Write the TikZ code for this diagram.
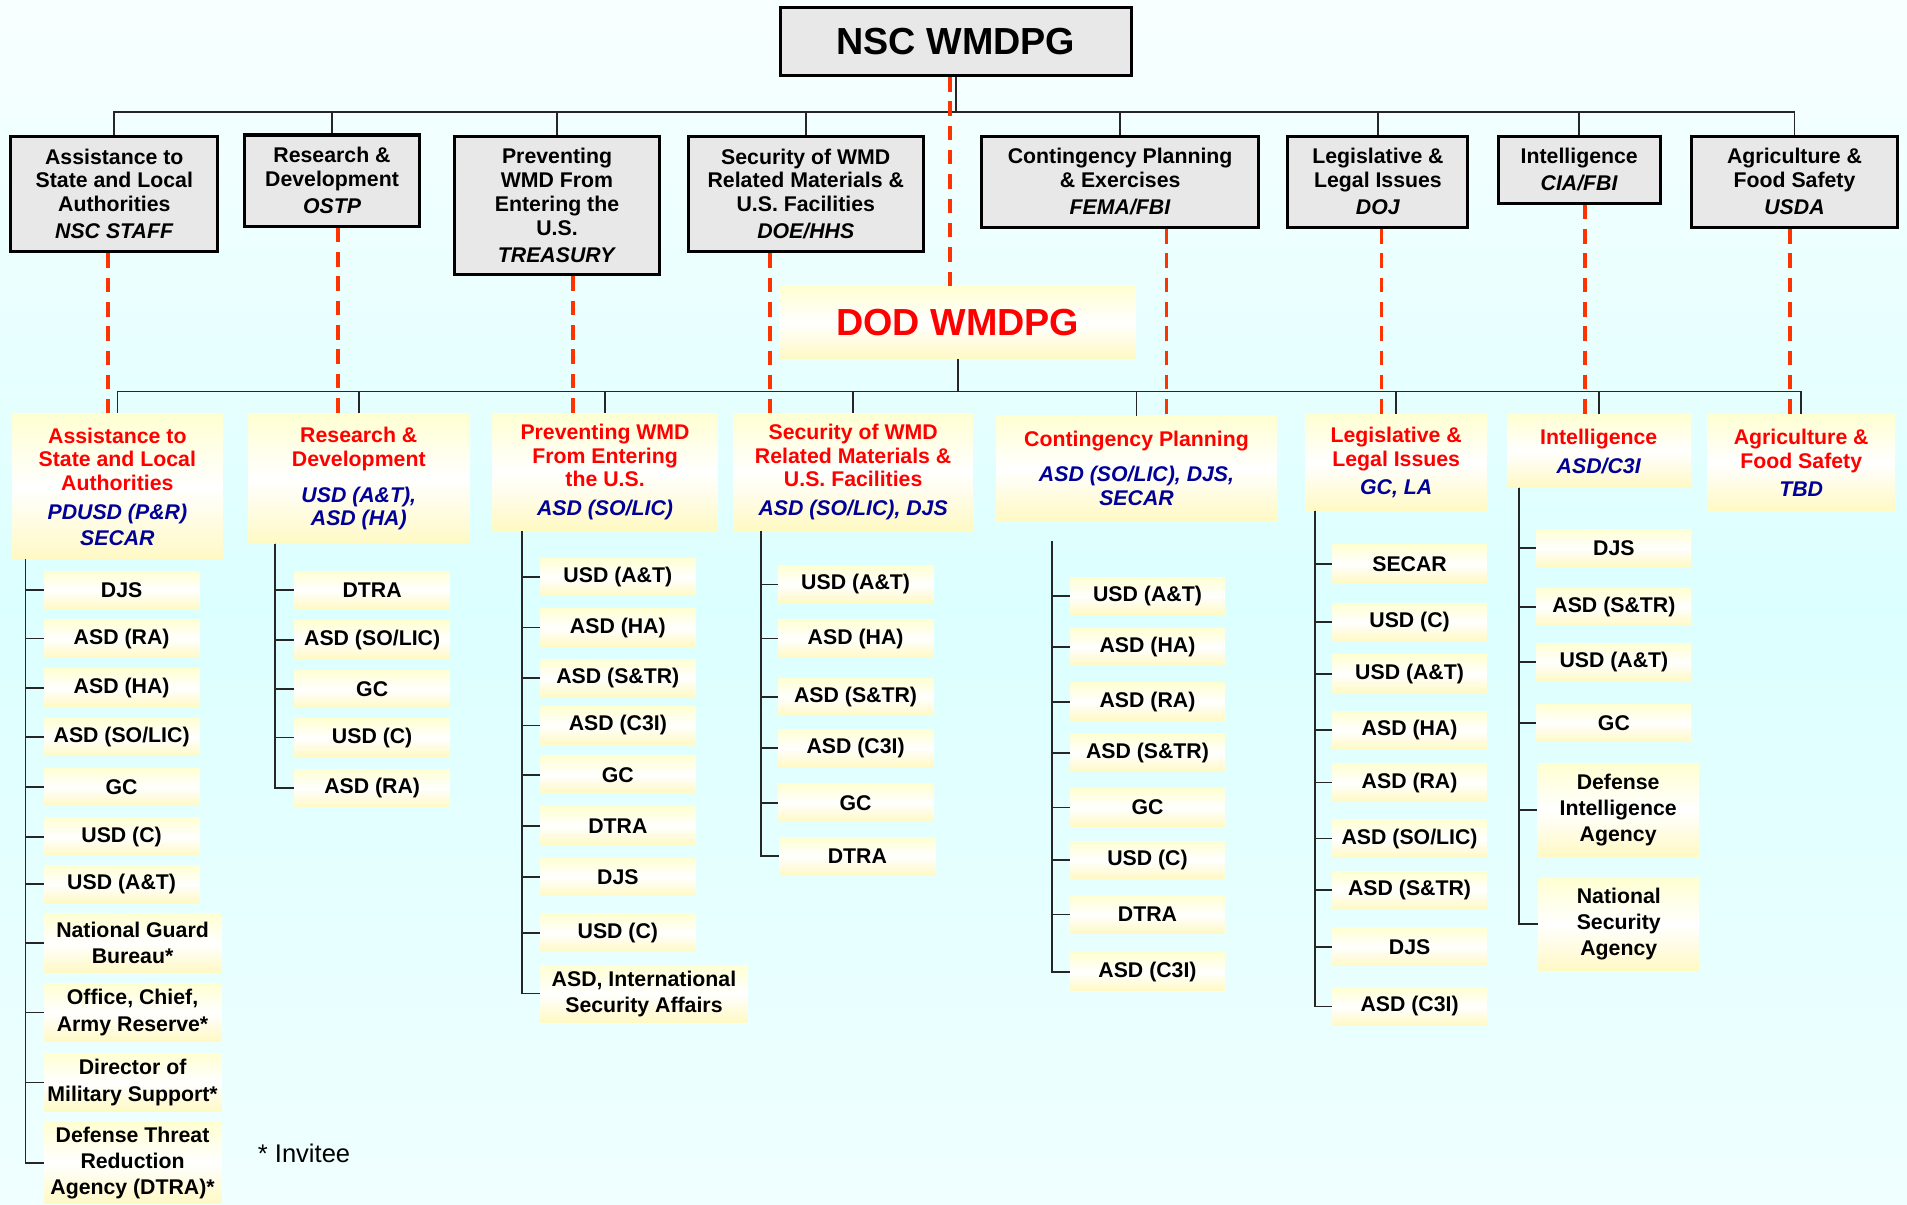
\documentclass[tikz,border=0pt]{standalone}
\usepackage{fontspec}
\setmainfont{Liberation Sans}
\definecolor{boxgray}{HTML}{E8E8E8}
\definecolor{navy}{HTML}{000099}
\definecolor{dashred}{HTML}{FF3300}
\definecolor{ylwtop}{HTML}{FFFFD2}
\definecolor{ylwbot}{HTML}{FFF9C4}
\definecolor{bgtop}{HTML}{F8FFFF}
\definecolor{bgmid}{HTML}{DCFFFF}
\definecolor{bgbot}{HTML}{F0FFFF}
\newcommand{\lbl}{\fontsize{17.5}{19.5}\selectfont}
\newcommand{\itm}{\fontsize{17.5}{21.5}\selectfont}
\newcommand{\chair}[1]{\textcolor{navy}{\itshape #1}}

\begin{document}
\begin{tikzpicture}[
  x=1pt, y=-1pt,
  topbox/.style={draw=black, line width=2.5pt, fill=boxgray, align=center, font=\lbl\bfseries, inner sep=0pt},
  head/.style={top color=ylwtop, bottom color=ylwbot, middle color=white, align=center, font=\lbl\bfseries, text=red, inner sep=0pt},
  item/.style={top color=ylwtop, bottom color=ylwbot, middle color=white, align=center, font=\itm\bfseries, inner sep=0pt, minimum height=31pt},
  bar/.style={line width=1.4pt, draw=black!85},
  link/.style={draw=dashred, line width=3pt, dash pattern=on 12pt off 8pt}
]

\useasboundingbox (0,0) rectangle (1568,990);
\fill[top color=bgtop, bottom color=bgbot, middle color=bgmid] (0,0) rectangle (1568,990);

% NSC level
\node[topbox, minimum width=288, minimum height=56, font=\fontsize{31}{31}\selectfont\bfseries] (N) at (786,34) {NSC WMDPG};

\node[topbox, minimum width=170, minimum height=95] (T1) at (94,159.5) {Assistance to\\State and Local\\Authorities\\[3pt]\textit{NSC STAFF}};
\node[topbox, minimum width=144, minimum height=75] (T2) at (273,148.5) {Research \&\\Development\\[3pt]\textit{OSTP}};
\node[topbox, minimum width=168, minimum height=114] (T3) at (458,169) {Preventing\\WMD From\\Entering the\\U.S.\\[3pt]\textit{TREASURY}};
\node[topbox, minimum width=193, minimum height=95] (T4) at (662.5,159.5) {Security of WMD\\Related Materials \&\\U.S. Facilities\\[3pt]\textit{DOE/HHS}};
\node[topbox, minimum width=228, minimum height=75] (T5) at (921,149.5) {Contingency Planning\\\& Exercises\\[3pt]\textit{FEMA/FBI}};
\node[topbox, minimum width=148, minimum height=75] (T6) at (1133,149.5) {Legislative \&\\Legal Issues\\[3pt]\textit{DOJ}};
\node[topbox, minimum width=133, minimum height=55] (T7) at (1298.5,139.5) {Intelligence\\[3pt]\textit{CIA/FBI}};
\node[topbox, minimum width=169, minimum height=75] (T8) at (1475.5,149.5) {Agriculture \&\\Food Safety\\[3pt]\textit{USDA}};

% DOD level
\node[head, minimum width=293, minimum height=60, font=\fontsize{31}{31}\selectfont\bfseries] (W) at (787.5,265) {DOD WMDPG};

\node[head, minimum width=173, minimum height=120] (H1) at (96.5,400) {Assistance to\\State and Local\\Authorities\\[4pt]\chair{PDUSD (P\&R)}\\[2pt]\chair{SECAR}};
\node[head, minimum width=182, minimum height=107] (H2) at (295,393.5) {Research \&\\Development\\[10pt]\chair{USD (A\&T),}\\\chair{ASD (HA)}};
\node[head, minimum width=185, minimum height=96] (H3) at (497.5,388) {Preventing WMD\\From Entering\\the U.S.\\[4pt]\chair{ASD (SO/LIC)}};
\node[head, minimum width=197, minimum height=96] (H4) at (701.5,388) {Security of WMD\\Related Materials \&\\U.S. Facilities\\[4pt]\chair{ASD (SO/LIC), DJS}};
\node[head, minimum width=231, minimum height=86] (H5) at (934.5,385) {Contingency Planning\\[10pt]\chair{ASD (SO/LIC), DJS,}\\\chair{SECAR}};
\node[head, minimum width=149, minimum height=79] (H6) at (1148,380.5) {Legislative \&\\Legal Issues\\[4pt]\chair{GC, LA}};
\node[head, minimum width=151, minimum height=60] (H7) at (1314.5,371) {Intelligence\\[4pt]\chair{ASD/C3I}};
\node[head, minimum width=154, minimum height=79] (H8) at (1481,380.5) {Agriculture \&\\Food Safety\\[4pt]\chair{TBD}};

% members
\node[item, minimum width=128] (A1) at (100,485) {DJS};
\node[item, minimum width=128] (A2) at (100,525) {ASD (RA)};
\node[item, minimum width=128] (A3) at (100,565.5) {ASD (HA)};
\node[item, minimum width=128] (A4) at (100,606) {ASD (SO/LIC)};
\node[item, minimum width=128] (A5) at (100,647) {GC};
\node[item, minimum width=128] (A6) at (100,688) {USD (C)};
\node[item, minimum width=128] (A7) at (100,727) {USD (A\&T)};
\node[item, minimum width=146, minimum height=48] (A8) at (109,775.5) {National Guard\\Bureau*};
\node[item, minimum width=146, minimum height=48] (A9) at (109,832.5) {Office, Chief,\\Army Reserve*};
\node[item, minimum width=146, minimum height=48] (A10) at (109,890) {Director of\\Military Support*};
\node[item, minimum width=146, minimum height=67] (A11) at (109,956) {Defense Threat\\Reduction\\Agency (DTRA)*};

\node[item, minimum width=128] (B1) at (306,485) {DTRA};
\node[item, minimum width=128] (B2) at (306,526) {ASD (SO/LIC)};
\node[item, minimum width=128] (B3) at (306,566.5) {GC};
\node[item, minimum width=128] (B4) at (306,606.5) {USD (C)};
\node[item, minimum width=128] (B5) at (306,648) {ASD (RA)};

\node[item, minimum width=128] (C1) at (508,474.5) {USD (A\&T)};
\node[item, minimum width=128] (C2) at (508,516) {ASD (HA)};
\node[item, minimum width=128] (C3) at (508,557.5) {ASD (S\&TR)};
\node[item, minimum width=128] (C4) at (508,596.5) {ASD (C3I)};
\node[item, minimum width=128] (C5) at (508,637) {GC};
\node[item, minimum width=128] (C6) at (508,679) {DTRA};
\node[item, minimum width=128] (C7) at (508,721) {DJS};
\node[item, minimum width=128] (C8) at (508,767) {USD (C)};
\node[item, minimum width=171, minimum height=47] (C9) at (529.5,817) {ASD, International\\Security Affairs};

\node[item, minimum width=128] (D1) at (703.5,480.5) {USD (A\&T)};
\node[item, minimum width=128] (D2) at (703.5,525) {ASD (HA)};
\node[item, minimum width=128] (D3) at (703.5,573) {ASD (S\&TR)};
\node[item, minimum width=128] (D4) at (703.5,615) {ASD (C3I)};
\node[item, minimum width=128] (D5) at (703.5,660) {GC};
\node[item, minimum width=128] (D6) at (705,704) {DTRA};

\node[item, minimum width=127] (E1) at (943.5,490) {USD (A\&T)};
\node[item, minimum width=127] (E2) at (943.5,532) {ASD (HA)};
\node[item, minimum width=127] (E3) at (943.5,577) {ASD (RA)};
\node[item, minimum width=127] (E4) at (943.5,619) {ASD (S\&TR)};
\node[item, minimum width=127] (E5) at (943.5,664) {GC};
\node[item, minimum width=127] (E6) at (943.5,707) {USD (C)};
\node[item, minimum width=127] (E7) at (943.5,752) {DTRA};
\node[item, minimum width=127] (E8) at (943.5,799) {ASD (C3I)};

\node[item, minimum width=127] (F1) at (1159,463.5) {SECAR};
\node[item, minimum width=127] (F2) at (1159,511.5) {USD (C)};
\node[item, minimum width=127] (F3) at (1159,554) {USD (A\&T)};
\node[item, minimum width=127] (F4) at (1159,600.5) {ASD (HA)};
\node[item, minimum width=127] (F5) at (1159,643.5) {ASD (RA)};
\node[item, minimum width=127] (F6) at (1159,689.5) {ASD (SO/LIC)};
\node[item, minimum width=127] (F7) at (1159,732) {ASD (S\&TR)};
\node[item, minimum width=127] (F8) at (1159,778.5) {DJS};
\node[item, minimum width=127] (F9) at (1159,827.5) {ASD (C3I)};

\node[item, minimum width=127] (G1) at (1327,450.5) {DJS};
\node[item, minimum width=127] (G2) at (1327,499) {ASD (S\&TR)};
\node[item, minimum width=127] (G3) at (1327,544.5) {USD (A\&T)};
\node[item, minimum width=127] (G4) at (1327,594.5) {GC};
\node[item, minimum width=133, minimum height=76] (G5) at (1330.5,666) {Defense\\Intelligence\\Agency};
\node[item, minimum width=132, minimum height=76] (G6) at (1331,760) {National\\Security\\Agency};

\node[font=\fontsize{21}{21}\selectfont] (inv) at (250,948) {* Invitee};

% solid connectors
\coordinate (nb) at (N.south |- 0,92);
\draw[bar] (N.south) -- (nb);
\foreach \i in {1,...,8} \draw[bar] (nb) -| (T\i.north);
\coordinate (lb) at (W.south |- 0,322);
\draw[bar] (W.south) -- (lb);
\foreach \i in {1,...,8} \draw[bar] (lb) -| (H\i.north);

\coordinate (a0) at (21,460);
\coordinate (b0) at (226,447);
\coordinate (c0) at (429,437);
\coordinate (d0) at (626,437);
\coordinate (e0) at (865,445);
\coordinate (f0) at (1081,420);
\coordinate (g0) at (1249,401);
\foreach \i in {1,...,11} \draw[bar] (a0) |- (A\i.west);
\foreach \i in {1,...,5} \draw[bar] (b0) |- (B\i.west);
\foreach \i in {1,...,9} \draw[bar] (c0) |- (C\i.west);
\foreach \i in {1,...,6} \draw[bar] (d0) |- (D\i.west);
\foreach \i in {1,...,8} \draw[bar] (e0) |- (E\i.west);
\foreach \i in {1,...,9} \draw[bar] (f0) |- (F\i.west);
\foreach \i in {1,...,6} \draw[bar] (g0) |- (G\i.west);

% dashed links NSC -> DOD
\draw[link] ([xshift=-5pt]N.south) -- ([xshift=-5pt]N.south |- W.north);
\draw[link] ([xshift=-5pt]T1.south) -- ([xshift=-5pt]T1.south |- H1.north);
\draw[link] ([xshift=5pt]T2.south) -- ([xshift=5pt]T2.south |- H2.north);
\draw[link] ([xshift=13pt]T3.south) -- ([xshift=13pt]T3.south |- H3.north);
\draw[link] ([xshift=-29.5pt]T4.south) -- ([xshift=-29.5pt]T4.south |- H4.north);
\draw[link] ([xshift=38pt]T5.south) -- ([xshift=38pt]T5.south |- H5.north);
\draw[link] ([xshift=3pt]T6.south) -- ([xshift=3pt]T6.south |- H6.north);
\draw[link] ([xshift=4.5pt]T7.south) -- ([xshift=4.5pt]T7.south |- H7.north);
\draw[link] ([xshift=-3.5pt]T8.south) -- ([xshift=-3.5pt]T8.south |- H8.north);

\end{tikzpicture}
\end{document}
